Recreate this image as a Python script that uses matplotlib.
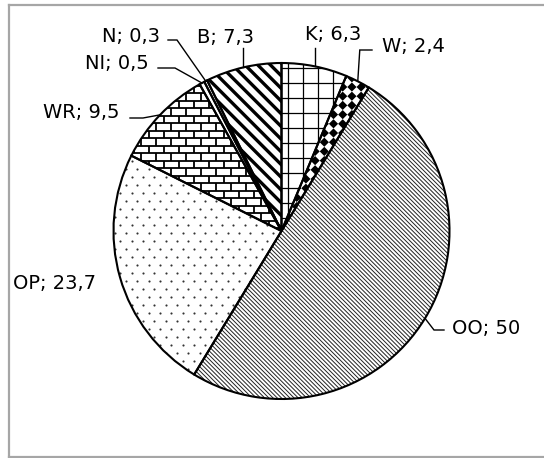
import numpy as np
import matplotlib.pyplot as plt
from matplotlib.collections import LineCollection, PolyCollection

# share of each group, clockwise from 12 o'clock
labels = ['K', 'W', 'OO', 'OP', 'WR', 'NI', 'N', 'B']
values = [6.3, 2.4, 50, 23.7, 9.5, 0.5, 0.3, 7.3]

W, H = 544, 458
cx, cy, R = 281.5, H - 231, 168

plt.rcParams['font.family'] = 'DejaVu Sans'

fig = plt.figure(figsize=(W / 100, H / 100), dpi=100)
ax = fig.add_axes([0, 0, 1, 1])

base, _ = ax.pie(values, startangle=90, counterclock=False, center=(cx, cy), radius=R,
                 wedgeprops=dict(facecolor='white', edgecolor='none', linewidth=0))
edges, _ = ax.pie(values, startangle=90, counterclock=False, center=(cx, cy), radius=R,
                  wedgeprops=dict(fill=False, edgecolor='black', linewidth=1.5))
for w in base:
    w.set_zorder(1)
for w in edges:
    w.set_zorder(3)

x0, x1 = cx - R - 10, cx + R + 10
y0, y1 = cy - R - 10, cy + R + 10


def diag(step, offset=0.0):
    # lines running down to the right ("\")
    cs = np.arange(x0 + y0 + offset, x1 + y1, step)
    return [[(x0, c - x0), (x1, c - x1)] for c in cs]


def add_clipped(artist, wedge):
    artist.set_zorder(2)
    ax.add_collection(artist)
    artist.set_clip_path(wedge)


# K: square grid
segs = [[(x, y0), (x, y1)] for x in np.arange(288 - 15 * 20, x1, 15)]
segs += [[(x0, H - y), (x1, H - y)] for y in np.arange(83 - 15 * 20, H, 15)]
add_clipped(LineCollection(segs, colors='black', linewidths=0.9), base[0])

# W: checker of black diamonds
a = 4.6
diamonds = []
for px in np.arange(x0, x1, 2 * a):
    for py in np.arange(y0, y1, 2 * a):
        diamonds.append([(px - a, py), (px, py + a), (px + a, py), (px, py - a)])
add_clipped(PolyCollection(diamonds, facecolors='black', edgecolors='none'), base[1])

# OO: dense fine diagonals
add_clipped(LineCollection(diag(4.2), colors='#222222', linewidths=0.7), base[2])

# OP: staggered dots
dots = []
for k, y in enumerate(np.arange(y0, y1, 8.0)):
    shift = 0 if k % 2 == 0 else 5.65
    for x in np.arange(x0 + shift, x1, 11.3):
        dots.append((x, y))
dots = np.array(dots)
sc = ax.scatter(dots[:, 0], dots[:, 1], s=2.4, c='#333333', linewidths=0, zorder=2)
sc.set_clip_path(base[3])

# WR: brick wall
rows = np.arange(115.7 - 7.5 * 40, H, 7.5)
segs = [[(x0, H - y), (x1, H - y)] for y in rows]
for k, y in enumerate(rows[:-1]):
    shift = 0 if k % 2 == 0 else 7.5
    for x in np.arange(x0 + shift, x1, 15):
        segs.append([(x, H - y), (x, H - y - 7.5)])
add_clipped(LineCollection(segs, colors='black', linewidths=1.3), base[4])

# B: wide diagonal stripes
add_clipped(LineCollection(diag(12.7, 3), colors='black', linewidths=2.4), base[7])

# labels and leader lines, text positions in pixels from the top-left
layout = {
    'K':  dict(text=(305, 40), leader=lambda a: [(a[0], 48)]),
    'W':  dict(text=(382, 52), leader=lambda a: [(372, 50), (a[0] + 2, 50)]),
    'OO': dict(text=(452, 334), leader=lambda a: [(444, 330), (434, 330)]),
    'OP': dict(text=(13, 289), leader=None),
    'WR': dict(text=(43, 118), leader=lambda a: [(130, 118), (143, 118)]),
    'NI': dict(text=(85, 69), leader=lambda a: [(158, 68), (175, 68)]),
    'N':  dict(text=(102, 42.5), leader=lambda a: [(168, 40), (177, 40)]),
    'B':  dict(text=(197, 43), leader=lambda a: [(a[0], 48)]),
}

cum = np.cumsum([0] + values) / sum(values)
for i, lab in enumerate(labels):
    mid = np.deg2rad(90 - 360 * (cum[i] + cum[i + 1]) / 2)
    anchor = (cx + R * np.cos(mid), H - (cy + R * np.sin(mid)))
    spec = layout[lab]
    txt = f'{lab}; {values[i]:g}'.replace('.', ',')
    tx, ty = spec['text']
    ax.text(tx, H - ty, txt, fontsize=14, ha='left', va='baseline', zorder=5)
    if spec['leader'] is not None:
        pts = spec['leader'](anchor) + [anchor]
        ax.plot([p[0] for p in pts], [H - p[1] for p in pts], color='black',
                lw=1.0, zorder=4, solid_joinstyle='miter')

# chart area border
bc = '#a6a6a6'
ax.plot([8.5, 8.5], [H - 4.5, H - 456.5], color=bc, lw=1.6, zorder=6)
ax.plot([8.5, W + 5], [H - 4.5, H - 4.5], color=bc, lw=1.6, zorder=6)
ax.plot([8.5, W + 5], [H - 456.5, H - 456.5], color=bc, lw=1.6, zorder=6)

ax.set_xlim(0, W)
ax.set_ylim(0, H)
ax.set_aspect('auto')
ax.axis('off')

fig.savefig('out.png', dpi=100)
